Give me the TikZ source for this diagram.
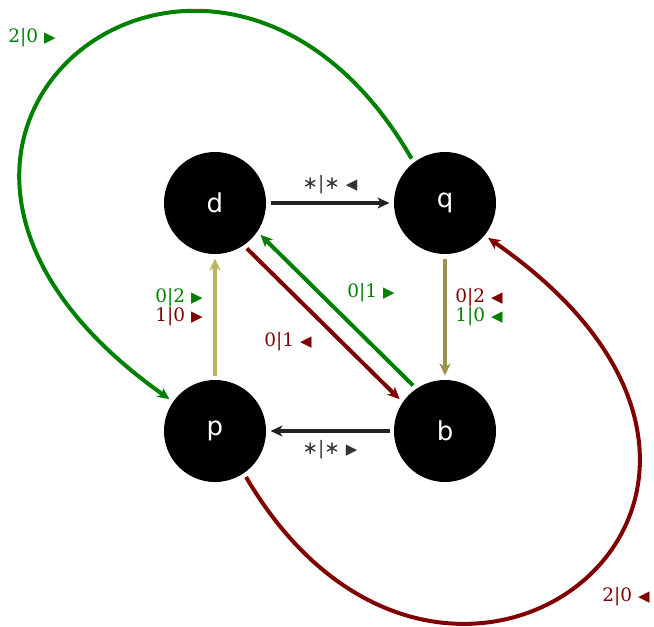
\documentclass[tikz,border=0pt]{standalone}
\usepackage{fontspec}
\setmainfont{DejaVu Serif}
\newfontfamily\statefont{DejaVu Sans}
\newfontfamily\glyphfont{DejaVu Sans}
\usetikzlibrary{arrows.meta}

\definecolor{grn}{HTML}{008000}
\definecolor{dred}{HTML}{800000}
\definecolor{khakiA}{HTML}{BDB55E}
\definecolor{khakiB}{HTML}{9C9150}
\definecolor{edgeblk}{HTML}{222222}
\definecolor{lblgray}{HTML}{333333}

% small pointer triangles and the operator asterisk
\newcommand\rtri{{\glyphfont\fontsize{15}{15}\selectfont ▶}}
\newcommand\ltri{{\glyphfont\fontsize{15}{15}\selectfont ◀}}
\newcommand\astk{{\glyphfont ∗}}

\begin{document}
\begin{tikzpicture}[x=1pt,y=-1pt,
  state/.style={circle,fill=black,minimum size=102pt,inner sep=0pt,outer sep=4.5pt,
    text=white,font=\statefont\fontsize{26}{30}\selectfont},
  link/.style={line width=4pt,-{Stealth[length=12pt,width=11pt,inset=3.5pt]}},
  lbl/.style={inner sep=0pt,font=\fontsize{18.5}{18.5}\selectfont,align=center}]
\useasboundingbox (0,0) rectangle (654,627);

% states
\node[state] (d) at (215,203) {d};
\node[state] (q) at (445,203) {q};
\node[state] (p) at (215,431) {p};
\node[state] (b) at (445,431) {b};

% straight transitions
\draw[link,edgeblk] (d) -- (q);
\draw[link,edgeblk] (b) -- (p);
\draw[link,khakiA] (p) -- (d);
\draw[link,khakiB] (q) -- (b);
\draw[link,dred] (d.-55) -- (b.145);
\draw[link,grn] (b.125) -- (d.-35);

% long curved transitions
\draw[link,grn] (q.127) .. controls (215,-182) and (-200,138) .. (p.145);
\draw[link,dred] (p.-56) .. controls (445,816) and (860,496) .. (q.-39);

% transition labels
\node[lbl,text=lblgray] (l1) at (330,185) {\astk|\astk\ \ltri};
\node[lbl,text=lblgray] (l2) at (330,450) {\astk|\astk\ \rtri};
\node[lbl] (l3) at (179,307) {\textcolor{grn}{0|2 \rtri}\\\textcolor{dred}{1|0 \rtri}};
\node[lbl] (l4) at (479,307) {\textcolor{dred}{0|2 \ltri}\\\textcolor{grn}{1|0 \ltri}};
\node[lbl,text=grn] (l5) at (371,293) {0|1 \rtri};
\node[lbl,text=dred] (l6) at (288,342) {0|1 \ltri};
\node[lbl,text=grn] (l7) at (32,38) {2|0 \rtri};
\node[lbl,text=dred] (l8) at (626,597) {2|0 \ltri};
\end{tikzpicture}
\end{document}
